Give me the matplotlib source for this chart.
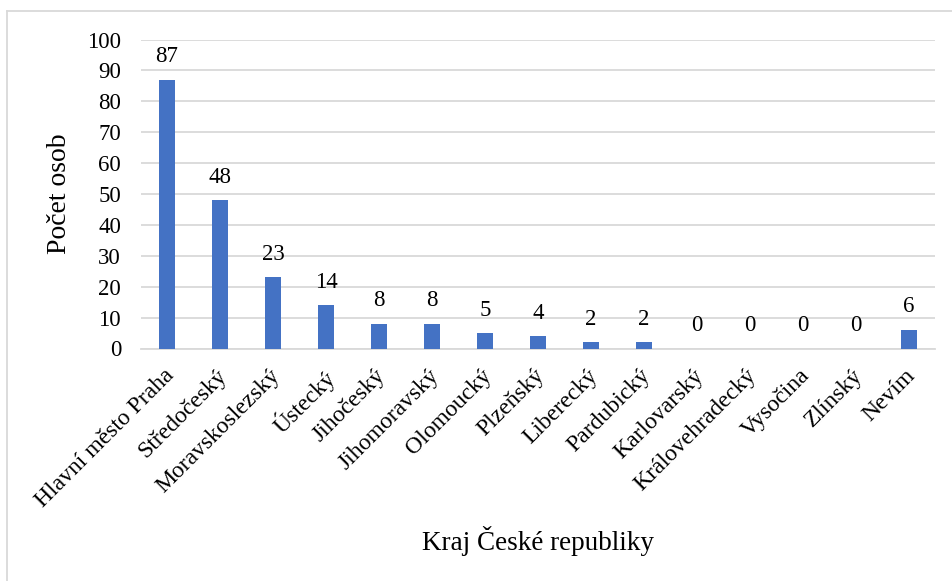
import matplotlib
matplotlib.use("Agg")
import matplotlib.pyplot as plt
from matplotlib.lines import Line2D
from matplotlib.transforms import ScaledTranslation

categories = ["Hlavní město Praha", "Středočeský", "Moravskoslezský", "Ústecký",
              "Jihočeský", "Jihomoravský", "Olomoucký", "Plzeňský", "Liberecký",
              "Pardubický", "Karlovarský", "Královehradecký", "Vysočina", "Zlínský", "Nevím"]
values = [87, 48, 23, 14, 8, 8, 5, 4, 2, 2, 0, 0, 0, 0, 6]
y_ticks = [0, 10, 20, 30, 40, 50, 60, 70, 80, 90, 100]

plt.rcParams['font.family'] = ['Liberation Serif', 'DejaVu Serif']

W, H = 953, 581
fig = plt.figure(figsize=(W / 100, H / 100), dpi=100)
ax = fig.add_axes([140.5 / W, 1 - 348.5 / H, (935.5 - 140.5) / W, (348.5 - 39.5) / H])

x = list(range(len(categories)))
ax.bar(x, values, width=0.3, color="#4472C4", zorder=3)
for xi, v in zip(x, values):
    ax.annotate(str(v), (xi, v), xytext=(0, 9), textcoords="offset points",
                ha="center", va="bottom", fontsize=16.5)

ax.set_xlim(-0.5, len(categories) - 0.5)
ax.set_ylim(0, 100)
ax.set_yticks(y_ticks)
ax.set_yticklabels([str(t) for t in y_ticks], fontsize=16.5)
ax.set_xticks(x)
ax.set_xticklabels(categories, rotation=45, ha="right", rotation_mode="anchor", fontsize=17)
ax.tick_params(axis="y", length=0, pad=14)
ax.tick_params(axis="x", length=0, pad=7)
shift = ScaledTranslation(-4 / 100, -7 / 100, fig.dpi_scale_trans)
for lab in ax.get_xticklabels():
    lab.set_transform(lab.get_transform() + shift)
ax.grid(axis="y", color="#D9D9D9", linewidth=1.3, zorder=0)
for s in ["top", "right", "left"]:
    ax.spines[s].set_visible(False)
ax.spines["bottom"].set_color("#D9D9D9")
ax.spines["bottom"].set_linewidth(1.3)

fig.text(60 / W, 1 - 194 / H, "Počet osob", ha="center", va="center", rotation=90, fontsize=20)
fig.text(538 / W, 1 - 541 / H, "Kraj České republiky", ha="center", va="center", fontsize=19.5)

# outer border (top and left visible)
fig.add_artist(Line2D([7.5 / W, 1], [1 - 10.5 / H, 1 - 10.5 / H], transform=fig.transFigure,
                      color="#D9D9D9", linewidth=1.3))
fig.add_artist(Line2D([7.5 / W, 7.5 / W], [0, 1 - 10.5 / H], transform=fig.transFigure,
                      color="#D9D9D9", linewidth=1.3))

fig.savefig("out.png", dpi=100, facecolor="white")
